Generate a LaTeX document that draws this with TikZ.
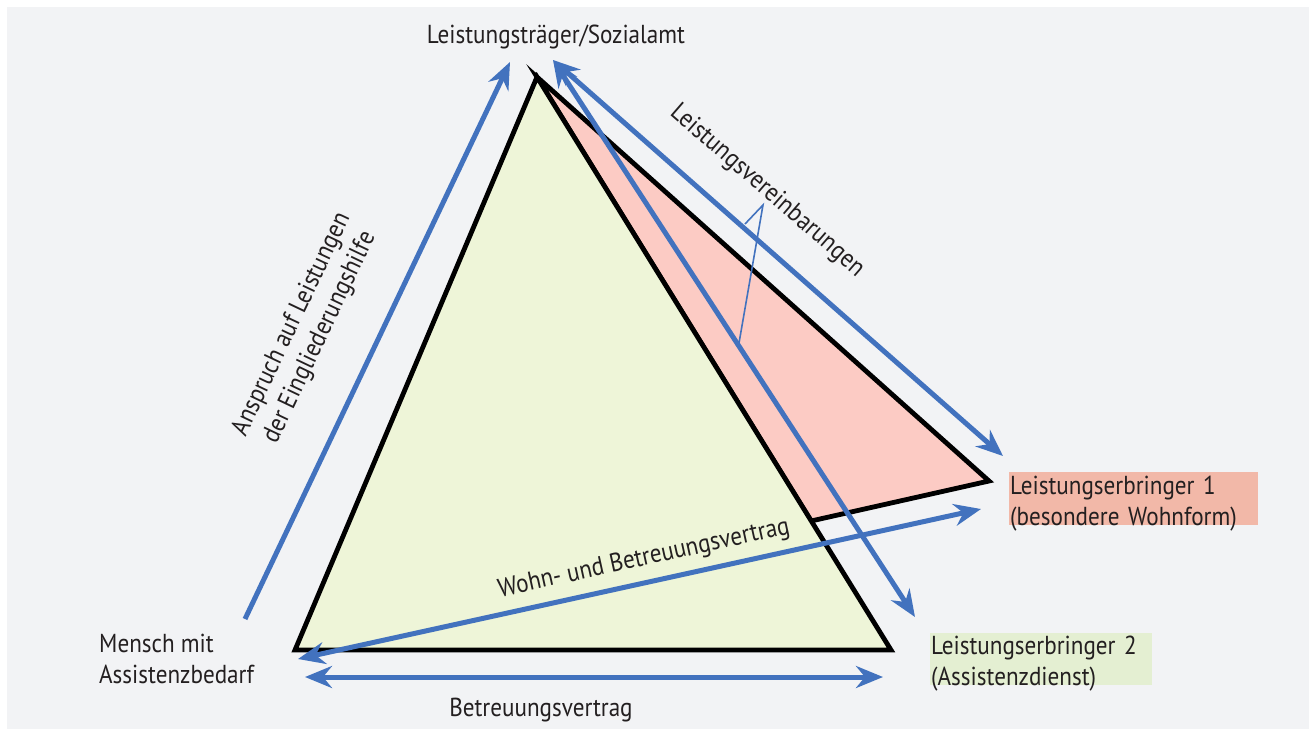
\documentclass[tikz,border=0pt]{standalone}
\usepackage{fontspec}
\setmainfont[FakeStretch=0.89]{PT Sans}
\usetikzlibrary{arrows.meta}
\definecolor{bgc}{RGB}{242,243,245}
\definecolor{greenc}{RGB}{238,245,216}
\definecolor{pinkc}{RGB}{252,203,196}
\definecolor{leonec}{RGB}{242,184,168}
\definecolor{letwoc}{RGB}{228,239,210}
\definecolor{bluec}{RGB}{66,114,190}
\definecolor{txtc}{RGB}{35,31,32}
\tikzset{
  tri/.style={draw=black, line width=4.8pt, line join=miter},
  arr/.style={draw=bluec, line width=5pt, -{Stealth[length=27pt,width=22pt,inset=9pt]}},
  darr/.style={draw=bluec, line width=5pt, {Stealth[length=27pt,width=22pt,inset=9pt]}-{Stealth[length=27pt,width=22pt,inset=9pt]}},
  thin/.style={draw=bluec, line width=1.6pt},
  lbl/.style={font=\fontsize{26}{31}\selectfont, text=txtc, inner sep=0pt},
  box/.style={lbl, anchor=north west, align=left, inner xsep=1pt, inner ysep=0pt, text height=22pt, text depth=31pt}
}
\begin{document}
\begin{tikzpicture}[x=1pt,y=-1pt]
\useasboundingbox (0,0) rectangle (1309,729);
\fill[white] (0,0) rectangle (1309,729);
\fill[bgc] (7,7) rectangle (1309,729);
% triangle vertices
\coordinate (A) at (537,77);
\coordinate (BL) at (295,650);
\coordinate (BR) at (891,650);
\coordinate (P1) at (989,481);
\coordinate (P2) at (811,521);
\draw[tri, fill=pinkc] (A) -- (P1) -- (P2) -- cycle;
\draw[tri, fill=greenc] (A) -- (BR) -- (BL) -- cycle;
% labels
\node[lbl] (top) at (556,37) {Leistungsträger/Sozialamt};
\node[box, fill=leonec, text width=247pt] (le1) at (1009,472) {Leistungserbringer 1\\(besondere Wohnform)};
\node[box, fill=letwoc, text width=220pt, text height=21pt] (le2) at (930,633) {Leistungserbringer 2\\(Assistenzdienst)};
\node[lbl, anchor=west, align=left] (mensch) at (99,659) {Mensch mit\\Assistenzbedarf};
\node[lbl] (bv) at (541,710) {Betreuungsvertrag};
\node[lbl, rotate=-41] (lv) at (767,191) {Leistungsvereinbarungen};
\node[lbl, rotate=64.6, align=center] (an) at (306,331) {Anspruch auf Leistungen\\der Eingliederungshilfe};
\node[lbl, rotate=12.4] (wb) at (644,559) {Wohn- und Betreuungsvertrag};
% arrow ends
\coordinate (anS) at (245,619);
\coordinate (anE) at (510,62);
\coordinate (bvS) at (305,677);
\coordinate (bvE) at (883,677);
\coordinate (wbS) at (298,659);
\coordinate (wbE) at (981,509);
\coordinate (lvS) at (553,60);
\coordinate (lvA) at (1003,456);
\coordinate (lvB) at (915,617);
\coordinate (pt) at (763,205);
\coordinate (pA) at (745,224);
\coordinate (pB) at (739,343);
\draw[arr] (anS) -- (anE);
\draw[darr] (bvS) -- (bvE);
\draw[darr] (wbS) -- (wbE);
\draw[darr] (lvS) -- (lvA);
\draw[darr] (lvS) -- (lvB);
\draw[thin] (pA) -- (pt) -- (pB);
\end{tikzpicture}
\end{document}
